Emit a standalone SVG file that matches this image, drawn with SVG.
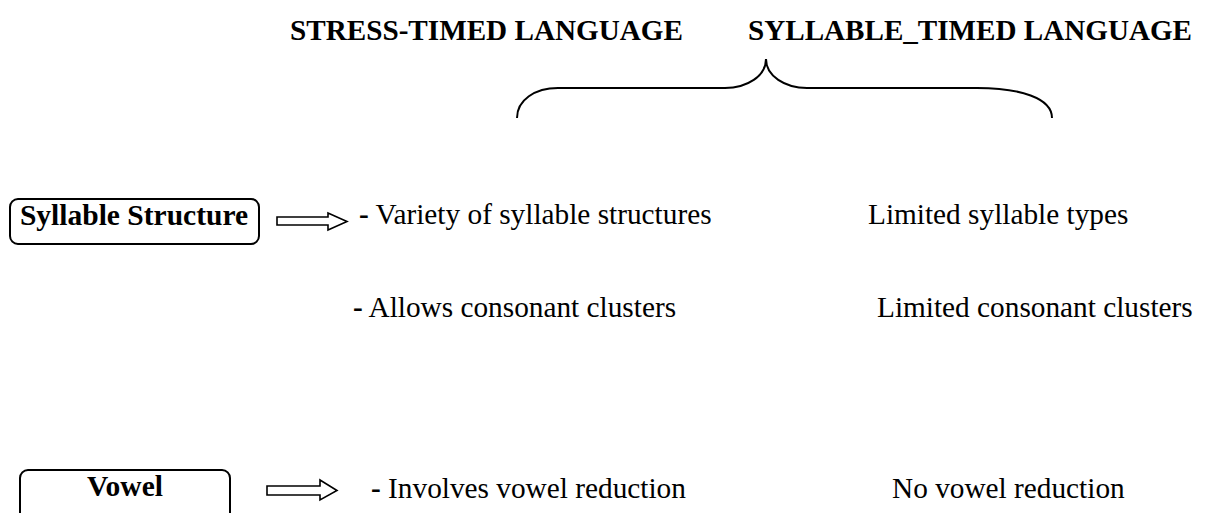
<svg xmlns="http://www.w3.org/2000/svg" width="1211" height="513" viewBox="0 0 1211 513">
  <style>
    text { font-family: "Liberation Serif", "Times New Roman", serif; fill: #000; }
    .head { font-size: 29px; font-weight: bold; }
    .label { font-size: 29.5px; font-weight: bold; }
    .item { font-size: 29.3px; }
    .dash { font-weight: bold; }
    .box { fill: #fff; stroke: #000; stroke-width: 2; }
    .arrow { fill: #fff; stroke: #000; stroke-width: 1.6; stroke-linejoin: miter; }
    .brace { fill: none; stroke: #000; stroke-width: 2; }
  </style>

  <!-- column headings -->
  <g id="headings">
    <text class="head" x="290" y="40" textLength="393" lengthAdjust="spacingAndGlyphs">STRESS-TIMED LANGUAGE</text>
    <text class="head" x="748" y="40" textLength="444" lengthAdjust="spacingAndGlyphs">SYLLABLE_TIMED LANGUAGE</text>
  </g>

  <!-- brace spanning both columns -->
  <g id="brace">
    <path class="brace" d="M517,118 C517,100 535,88 558,88 L725,88 C747,88 766,76 766,59 C766,76 785,88 807,88 L977,88 C1020,88 1052,98 1052,118"/>
  </g>

  <!-- category nodes -->
  <g id="node-syllable-structure">
    <rect class="box" x="10" y="199" width="249" height="45" rx="8"/>
    <text class="label" x="134" y="225" text-anchor="middle">Syllable Structure</text>
  </g>

  <g id="node-vowel">
    <rect class="box" x="20" y="470" width="210" height="60" rx="8"/>
    <text class="label" x="125" y="496" text-anchor="middle">Vowel</text>
  </g>

  <!-- block arrows -->
  <g id="connectors">
    <path class="arrow" d="M277,217 L328,217 L328,213 L347,221.5 L328,230 L328,225 L277,225 Z"/>
    <path class="arrow" d="M267,486 L320,486 L320,480 L337,490.5 L320,500 L320,495 L267,495 Z"/>
  </g>

  <!-- comparison rows -->
  <g id="row-syllable-types">
    <text class="item" x="359" y="224"><tspan class="dash">-</tspan> Variety of syllable structures</text>
    <text class="item" x="868" y="224">Limited syllable types</text>
  </g>

  <g id="row-clusters">
    <text class="item" x="353" y="317"><tspan class="dash">-</tspan> Allows consonant clusters</text>
    <text class="item" x="877" y="317">Limited consonant clusters</text>
  </g>

  <g id="row-vowel-reduction">
    <text class="item" x="371" y="498"><tspan class="dash">-</tspan> Involves vowel reduction</text>
    <text class="item" x="892" y="498">No vowel reduction</text>
  </g>
</svg>
